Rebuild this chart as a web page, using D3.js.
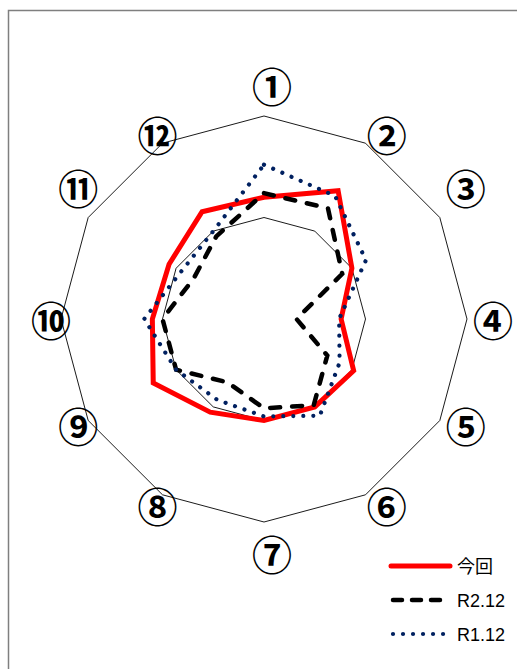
<!DOCTYPE html>
<html>
<head>
<meta charset="utf-8">
<script src="https://cdn.jsdelivr.net/npm/d3@7"></script>
<style>
  body { margin: 0; background: #fff; }
  svg { display: block; }
</style>
</head>
<body>
<div id="chart"></div>
<script>
// axis labels (circled numbers)
let axisLabels = ["①", "②", "③", "④", "⑤", "⑥", "⑦", "⑧", "⑨", "⑩", "⑪", "⑫"];
// grid rings
let ringValues = [50, 100];
// series values (outer ring = 100)
let seriesNames = ["今回", "R2.12", "R1.12"];
let konkai = [60, 73, 50, 38, 51, 50, 50, 53, 63, 55, 54, 61];
let r2_12 = [62, 63, 44.5, 16, 36, 49, 44, 36, 50, 50, 40, 47];
let r1_12 = [76, 70, 58, 37, 43, 55, 48, 46, 50, 59, 47, 50];

let width = 517, height = 669;
let cx = 264, cy = 319, radius = 203;
// excel lifts the ③ and ⑪ labels a bit
let labelLift = [0, 0, 26, 0, 0, 0, 0, 0, 0, 0, 26, 0];

let svg = d3.select("#chart").append("svg")
  .attr("width", width)
  .attr("height", height);

// chart frame (only top and left edges are inside the picture)
svg.append("rect")
  .attr("x", 8.5).attr("y", 10.5)
  .attr("width", width + 20).attr("height", height + 20)
  .attr("fill", "none")
  .attr("stroke", "#7f7f7f")
  .attr("stroke-width", 1.5);

let r = d3.scaleLinear().domain([0, 100]).range([0, radius]);
let angleStep = (Math.PI * 2) / axisLabels.length;

let g = svg.append("g").attr("transform", "translate(" + cx + "," + cy + ")");

// grid dodecagons
let ringLine = d3.lineRadial()
  .angle((d, i) => i * angleStep)
  .radius(d => r(d))
  .curve(d3.curveLinearClosed);

g.selectAll(".ring")
  .data(ringValues)
  .enter()
  .append("path")
  .attr("class", "ring")
  .attr("d", v => ringLine(axisLabels.map(() => v)))
  .attr("fill", "none")
  .attr("stroke", "#000")
  .attr("stroke-width", 0.9);

// series styles
let styles = [
  { color: "#ff0000", width: 5, dash: null, cap: "butt" },
  { color: "#000000", width: 4.5, dash: "10,12", cap: "round" },
  { color: "#002060", width: 4.2, dash: "0.01,10", cap: "round" },
];
let seriesData = [konkai, r2_12, r1_12];

g.selectAll(".series")
  .data(seriesData)
  .enter()
  .append("path")
  .attr("class", "series")
  .attr("d", d => ringLine(d))
  .attr("fill", "none")
  .attr("stroke", (d, i) => styles[i].color)
  .attr("stroke-width", (d, i) => styles[i].width)
  .attr("stroke-dasharray", (d, i) => styles[i].dash)
  .attr("stroke-linecap", (d, i) => styles[i].cap)
  .attr("stroke-linejoin", "miter");

// axis labels
g.selectAll(".axisLabel")
  .data(axisLabels)
  .enter()
  .append("text")
  .attr("class", "axisLabel")
  .attr("text-anchor", "middle")
  .attr("dominant-baseline", "central")
  .attr("x", (d, i) => {
    let c = Math.cos(i * angleStep);
    return 8 + (r(100) + 18 + 11 * c * c) * Math.sin(i * angleStep);
  })
  .attr("y", (d, i) => {
    let c = Math.cos(i * angleStep);
    return -(r(100) + 9 + 22 * Math.pow(Math.abs(c), 16)) * c - labelLift[i];
  })
  .style("font-family", "'Noto Sans CJK JP', sans-serif")
  .style("font-weight", "bold")
  .style("font-size", "40px")
  .text(d => d);

// legend
let legend = svg.append("g").attr("transform", "translate(391,566)");
let items = legend.selectAll(".item")
  .data(seriesNames)
  .enter()
  .append("g")
  .attr("transform", (d, i) => "translate(0," + i * 34 + ")");

items.append("line")
  .attr("x1", (d, i) => (i === 0 ? 0 : 2))
  .attr("x2", (d, i) => (i === 0 ? 59 : 56))
  .attr("y1", 0).attr("y2", 0)
  .attr("stroke", (d, i) => styles[i].color)
  .attr("stroke-width", (d, i) => styles[i].width)
  .attr("stroke-dasharray", (d, i) => (i === 1 ? "9,10" : styles[i].dash))
  .attr("stroke-linecap", "round");

items.append("text")
  .attr("x", 66)
  .attr("y", 1)
  .attr("dominant-baseline", "central")
  .style("font-family", "'Liberation Sans', 'Noto Sans CJK JP', sans-serif")
  .style("font-size", "18px")
  .text(d => d);
</script>
</body>
</html>
